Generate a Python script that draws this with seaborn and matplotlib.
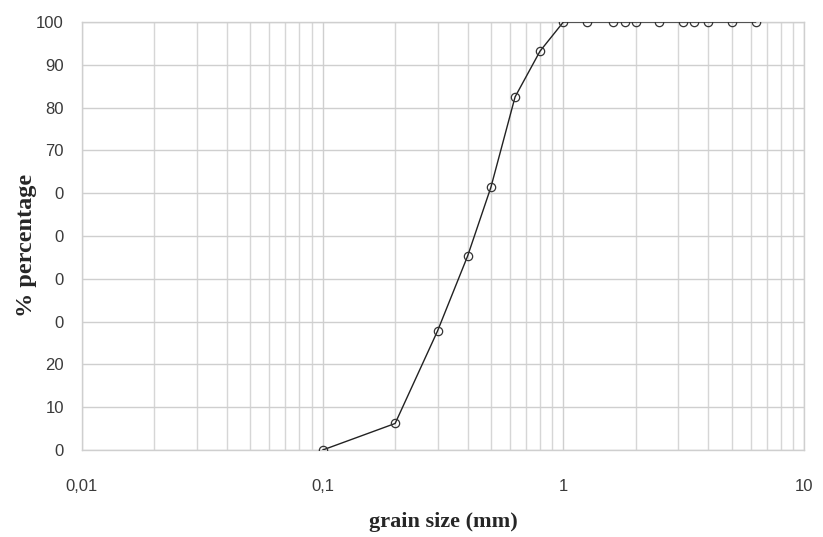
import numpy as np
import pandas as pd
import matplotlib
matplotlib.use("Agg")
import matplotlib.pyplot as plt
from matplotlib.ticker import FixedLocator, LogLocator, NullFormatter
import seaborn as sns

# sieve sizes (mm) and % passing
grain_size = [0.1, 0.2, 0.3, 0.4, 0.5, 0.63, 0.8, 1.0, 1.25, 1.6, 1.8, 2.0, 2.5, 3.15, 3.5, 4.0, 5.0, 6.3]
passing = [0, 6.2, 27.8, 45.3, 61.4, 82.5, 93.2, 100, 100, 100, 100, 100, 100, 100, 100, 100, 100, 100]

x_ticks = [0.01, 0.1, 1, 10]
x_labels = ["0,01", "0,1", "1", "10"]
y_ticks = [0, 10, 20, 30, 40, 50, 60, 70, 80, 90, 100]
y_labels = ["0", "10", "20", "0", "0", "0", "0", "70", "80", "90", "100"]

df = pd.DataFrame({"size": grain_size, "pct": passing})

sns.set_style("white")
plt.rcParams["font.family"] = ["Liberation Sans", "DejaVu Sans"]

fig = plt.figure(figsize=(8.23, 5.37), dpi=100)
ax = fig.add_axes([0.0996, 0.162, 0.8774, 0.797])

sns.lineplot(data=df, x="size", y="pct", ax=ax, estimator=None, sort=False,
             color="#222222", linewidth=1.0, marker="o", markersize=6,
             markerfacecolor="none", markeredgecolor="#333333", markeredgewidth=0.9,
             zorder=3)

ax.set_xscale("log")
ax.set_xlim(0.01, 10)
ax.set_ylim(0, 100)

ax.xaxis.set_major_locator(FixedLocator(x_ticks))
ax.set_xticklabels(x_labels)
ax.xaxis.set_minor_locator(LogLocator(base=10, subs=np.arange(2, 10)))
ax.xaxis.set_minor_formatter(NullFormatter())
ax.set_yticks(y_ticks)
ax.set_yticklabels(y_labels)

ax.grid(True, which="major", axis="both", color="#cfcfcf", linewidth=1.0)
ax.grid(True, which="minor", axis="x", color="#d6d6d6", linewidth=1.0)
ax.set_axisbelow(True)
for s in ax.spines.values():
    s.set_color("#cfcfcf")
    s.set_linewidth(1.0)

ax.tick_params(axis="both", which="both", length=0, labelsize=12, labelcolor="#3a3a3a")
ax.tick_params(axis="x", pad=21)
ax.tick_params(axis="y", pad=13)

ax.set_xlabel("grain size (mm)", family="Liberation Serif", fontweight="bold",
              fontsize=16, labelpad=13)
ax.set_ylabel("% percentage", family="Liberation Serif", fontweight="bold",
              fontsize=17.5)
ax.yaxis.set_label_coords(-0.0623, 0.479)

fig.savefig("out.png", dpi=100)
